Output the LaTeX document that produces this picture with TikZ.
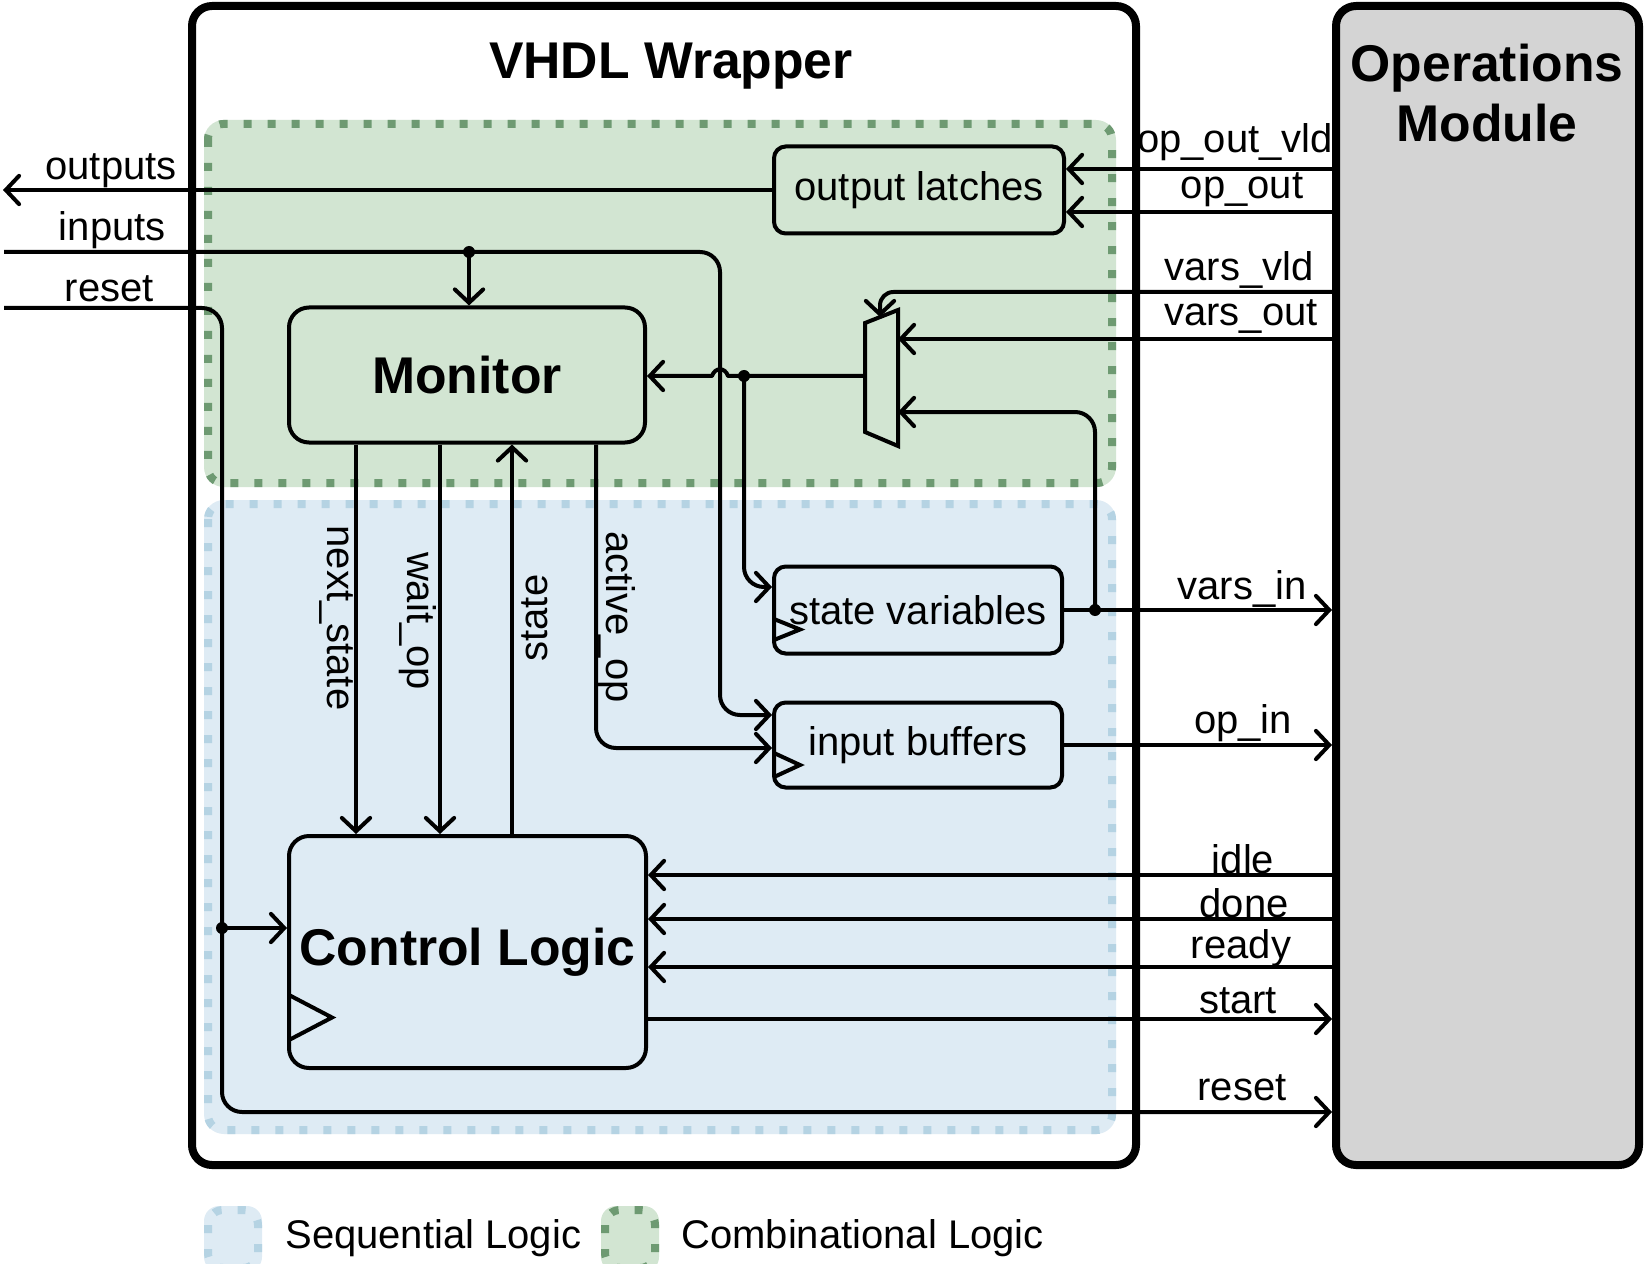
\documentclass[tikz,border=0pt]{standalone}
\usepackage{fontspec}
\setmainfont{Liberation Sans}
\usetikzlibrary{arrows.meta}
\definecolor{combfill}{HTML}{D2E5D2}
\definecolor{combline}{HTML}{6E9A72}
\definecolor{seqfill}{HTML}{DEEBF4}
\definecolor{seqline}{HTML}{B5D3E3}
\definecolor{modfill}{HTML}{D4D4D4}
\begin{document}
\begin{tikzpicture}[x=0.6pt,y=-0.6pt,
  wire/.style={line width=2.4pt, line join=round, rounded corners=12pt},
  arr/.style={wire, -{Straight Barb[length=8pt,width=17pt,line cap=round]}},
  dotn/.style={circle, fill=black, inner sep=0pt, minimum size=7.2pt},
  lbl/.style={font=\fontsize{24}{29}\selectfont, inner sep=0pt},
  big/.style={font=\fontsize{31}{37}\selectfont\bfseries, inner sep=0pt},
  blk/.style={draw, line width=2.4pt, rounded corners=7pt, inner sep=0pt},
  bigblk/.style={draw, line width=2.4pt, rounded corners=12pt, inner sep=0pt},
  outer/.style={draw, line width=4.8pt, rounded corners=12pt, inner sep=0pt},
  regborder/.style={line width=4.8pt, dash pattern=on 4.8pt off 9.6pt, rounded corners=9pt},
  clk/.style={line width=2.4pt, line join=miter}
]
\useasboundingbox (0,0) rectangle (1644,1264);

% outer boxes
\node[outer, fill=white, minimum width=566.4pt, minimum height=695.4pt] (wrapper) at (664,585.5) {};
\node[outer, fill=modfill, minimum width=181.8pt, minimum height=695.4pt] (opmod) at (1487.5,585.5) {};
\node[big, align=center] (optitle) at (1487,93) {Operations\\[-1pt]Module};
\node[big] (title) at (671,66) {VHDL Wrapper};

% regions
\fill[combfill, rounded corners=12pt] (204,120) rectangle (1116,487);
\draw[combline, regborder] (208,124) rectangle (1112,483);
\fill[seqfill, rounded corners=12pt] (204,500) rectangle (1116,1134);
\draw[seqline, regborder] (208,504) rectangle (1112,1130);

% blocks
\node[blk, fill=combfill, minimum width=174pt, minimum height=52.2pt, lbl] (latches) at (919,190) {output latches};
\node[bigblk, fill=combfill, minimum width=213.6pt, minimum height=81pt, big] (monitor) at (467,375) {Monitor};
\node[blk, fill=seqfill, minimum width=172.8pt, minimum height=52.2pt, lbl] (statevars) at (918,610) {state variables};
\node[blk, fill=seqfill, minimum width=172.8pt, minimum height=51pt, lbl] (inbuf) at (918,745) {input buffers};
\node[bigblk, fill=seqfill, minimum width=214.2pt, minimum height=139.2pt, big] (control) at (467.5,952) {Control Logic};

% mux
\draw[clk] (865,323) -- (898,310) -- (898,446) -- (865,432) -- cycle;
\coordinate (muxout) at (865,376);
\coordinate (muxtop) at (880,317);
\coordinate (muxin1) at (898,339);
\coordinate (muxin2) at (898,412);

% clock triangles
\draw[clk] (774,619) -- (800,629.5) -- (774,640);
\draw[clk] (774,753) -- (800,765) -- (774,777);
\draw[clk] (289,995) -- (332,1017.5) -- (289,1040);

% left side
\coordinate (outL) at (3,190);
\coordinate (inL) at (4,252);
\coordinate (rstL) at (4,308);
\draw[arr] (latches.west) -- (outL);
\node[lbl, anchor=east] (loutputs) at (177,171) {outputs};
\node[lbl, anchor=east] (linputs) at (166,230) {inputs};
\node[lbl, anchor=east] (lreset) at (154,289) {reset};

\node[dotn] (indot) at (469,252) {};
\draw[arr] (inL) -- (720,252) -- (720,715) -- (inbuf.west |- 0,715);
\draw[arr] (indot.center) -- (indot |- monitor.north);

\node[dotn] (rstdot) at (222,928) {};
\draw[arr] (rstL) -- (222,308) -- (222,1112) -- (opmod.west |- 0,1112);
\draw[arr] (rstdot.center) -- (control.west |- 0,928);

% monitor <-> control
\draw[arr] (monitor.south -| 356,0) -- (control.north -| 356,0);
\draw[arr] (monitor.south -| 440,0) -- (control.north -| 440,0);
\draw[arr] (control.north -| 512,0) -- (monitor.south -| 512,0);
\draw[arr] (monitor.south -| 596,0) -- (596,748) -- (inbuf.west |- 0,748);
\node[lbl, rotate=-90] (lns) at (336,618) {next\_state};
\node[lbl, rotate=-90] (lwo) at (418,621) {wait\_op};
\node[lbl, rotate=90] (lst) at (535,618) {state};
\node[lbl, rotate=-90] (lao) at (617,617) {active\_op};

% mux output with jump
\node[dotn] (muxdot) at (744,376) {};
\draw[arr, rounded corners=0pt] (muxout) -- (728,376) .. controls (725,367) and (715,367) .. (712,376) -- (monitor.east |- 0,376);
\draw[arr] (muxdot.center) -- (744,587) -- (statevars.west |- 0,587);

% right side signals
\draw[arr] (opmod.west |- 0,169) -- (latches.east |- 0,169);
\draw[arr] (opmod.west |- 0,212) -- (latches.east |- 0,212);
\draw[arr, rounded corners=8pt] (opmod.west |- 0,292) -- (880,292) -- (muxtop);
\draw[arr] (opmod.west |- 0,339) -- (muxin1);
\node[dotn] (fbdot) at (1095,610) {};
\draw[arr] (statevars.east) -- (opmod.west |- statevars.east);
\draw[arr] (fbdot.center) -- (1095,412) -- (muxin2);
\draw[arr] (inbuf.east) -- (opmod.west |- inbuf.east);
\draw[arr] (opmod.west |- 0,875) -- (control.east |- 0,875);
\draw[arr] (opmod.west |- 0,919) -- (control.east |- 0,919);
\draw[arr] (opmod.west |- 0,967) -- (control.east |- 0,967);
\draw[arr] (control.east |- 0,1019) -- (opmod.west |- 0,1019);

\node[lbl] (lopvld) at (1235,142) {op\_out\_vld};
\node[lbl] (lopout) at (1242,190) {op\_out};
\node[lbl] (lvvld) at (1239,270) {vars\_vld};
\node[lbl] (lvout) at (1241,317) {vars\_out};
\node[lbl] (lvin) at (1242,589) {vars\_in};
\node[lbl] (lopin) at (1243,723) {op\_in};
\node[lbl] (lidle) at (1243,859) {idle};
\node[lbl] (ldone) at (1244,903) {done};
\node[lbl] (lready) at (1241,948) {ready};
\node[lbl] (lstart) at (1238,1001) {start};
\node[lbl] (lrst2) at (1242,1088) {reset};

% legend
\fill[seqfill, rounded corners=9pt] (204,1206) rectangle (262,1272);
\draw[seqline, regborder] (208,1210) rectangle (258,1268);
\node[lbl, anchor=west] (lseq) at (285,1238) {Sequential Logic};
\fill[combfill, rounded corners=9pt] (601,1206) rectangle (659,1272);
\draw[combline, regborder] (605,1210) rectangle (655,1268);
\node[lbl, anchor=west] (lcomb) at (681,1238) {Combinational Logic};
\end{tikzpicture}
\end{document}
